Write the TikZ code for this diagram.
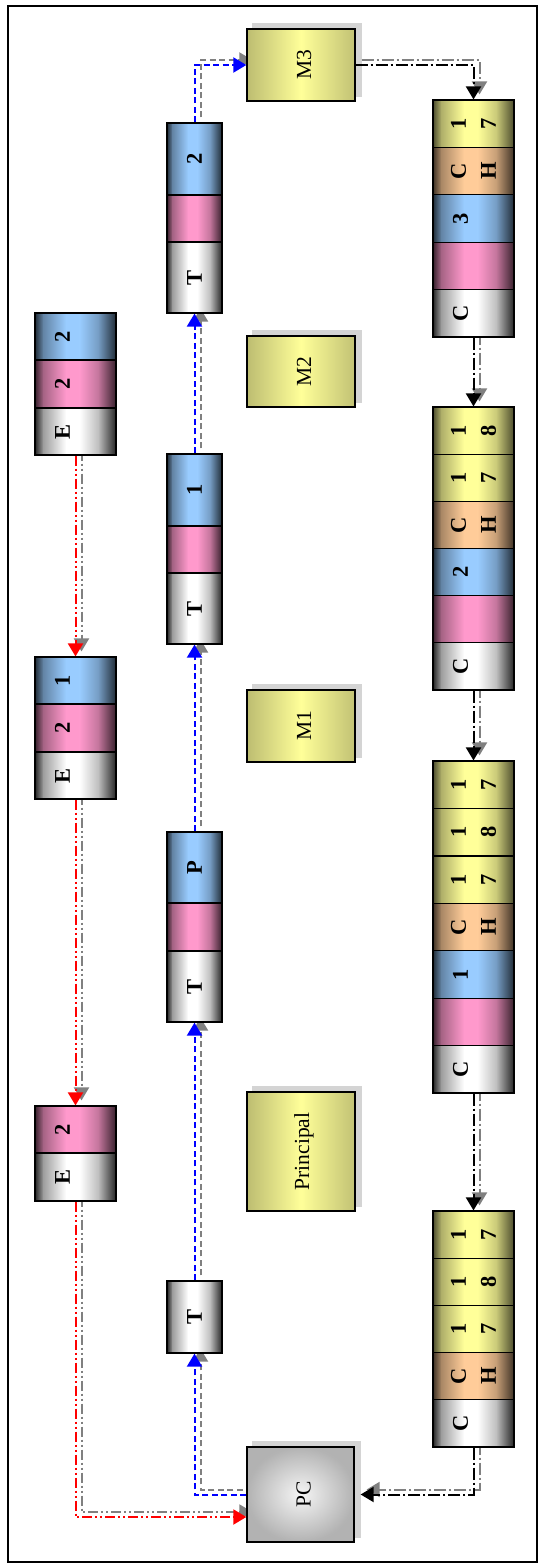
\documentclass[tikz,border=0pt]{standalone}
\usepackage{fontspec}
\setmainfont{Liberation Serif}
\usetikzlibrary{arrows.meta}
\pgfdeclarelayer{bg}
\pgfsetlayers{bg,main}
\definecolor{cPink}{HTML}{FF99CC}
\definecolor{cBlue}{HTML}{99CCFF}
\definecolor{cYel}{HTML}{FFFF99}
\definecolor{cOra}{HTML}{FFCC99}
\definecolor{lnBlue}{HTML}{0000FF}
\definecolor{lnRed}{HTML}{FF0000}
\definecolor{shGray}{HTML}{808080}
\colorlet{eW}{black!85}
\colorlet{eP}{cPink!22!black}
\colorlet{eB}{cBlue!22!black}
\colorlet{eY}{cYel!30!black}
\colorlet{eO}{cOra!25!black}
\tikzset{
 cellframe/.style={draw=black, line width=1.2pt, inner sep=0pt},
 lbl/.style={rotate=90, align=center, inner sep=0pt, font=\fontsize{22.5}{30}\selectfont\bfseries},
 blbl/.style={rotate=90, inner sep=0pt, font=\fontsize{21.5}{25}\selectfont},
 ybox/.style={draw=black, line width=1.3pt, left color=cYel!74!black, right color=cYel!76!black, middle color=cYel, minimum width=108pt, inner sep=0pt},
 pcbox/.style={draw=black, line width=1.3pt, inner color=black!4, outer color=black!30, minimum width=107pt, minimum height=95pt, inner sep=0pt},
 tip/.style={-{Triangle[length=13pt,width=15pt]}},
 redln/.style={draw=lnRed, line width=2pt, dash pattern=on 10pt off 3pt on 2pt off 3pt on 2pt off 3pt, tip},
 blueln/.style={draw=lnBlue, line width=2pt, dash pattern=on 6pt off 3.5pt, tip},
 blkln/.style={draw=black, line width=2pt, dash pattern=on 12pt off 3pt on 2pt off 3pt, tip},
 shad/.style={draw=shGray, transform canvas={xshift=6pt,yshift=5pt}},
}
% name, xcenter, ytop, ybottom, mid colour, edge colour, width
\newcommand\Cell[7]{%
 \shade[left color=#6, right color=#5!55!#6] ({#2-#7/2},#3) rectangle ({#2-#7/2+0.10*#7+0.3},#4);
 \shade[left color=#5!55!#6, right color=#5] ({#2-#7/2+0.10*#7},#3) rectangle ({#2-#7/2+0.38*#7+0.3},#4);
 \fill[#5] ({#2-#7/2+0.38*#7},#3) rectangle ({#2-#7/2+0.55*#7+0.3},#4);
 \shade[left color=#5, right color=#5!70!#6] ({#2-#7/2+0.55*#7},#3) rectangle ({#2-#7/2+0.78*#7+0.3},#4);
 \shade[left color=#5!70!#6, right color=#6] ({#2-#7/2+0.78*#7},#3) rectangle ({#2+#7/2},#4);
 \node[cellframe, minimum width=#7pt, minimum height={(#4-#3)*1pt}] (#1) at (#2,{(#3+#4)/2}) {};}
\newcommand\Link[2]{\draw[#1,shad] #2; \draw[#1] #2;}
\begin{document}
\begin{tikzpicture}[x=1pt,y=-1pt]
\useasboundingbox (0,0) rectangle (540,1564);
\begin{pgfonlayer}{bg}
\fill[white] (0,0) rectangle (540,1564);
\end{pgfonlayer}
\draw[line width=1.5pt] (8,6) rectangle (537,1562);
% right column
\Cell{a1}{473.5}{100}{147.4}{cYel}{eY}{81}
\Cell{a2}{473.5}{147.4}{194.8}{cOra}{eO}{81}
\Cell{a3}{473.5}{194.8}{242.2}{cBlue}{eB}{81}
\Cell{a4}{473.5}{242.2}{289.6}{cPink}{eP}{81}
\Cell{a5}{473.5}{289.6}{337}{white}{eW}{81}
\node[lbl] (a1t) at (a1) {1\\7};
\node[lbl] (a2t) at (a2) {C\\H};
\node[lbl] (a3t) at ([xshift=-13pt]a3.center) {3};
\node[lbl] (a5t) at ([xshift=-13pt]a5.center) {C};
\Cell{b1}{473.5}{407}{454.2}{cYel}{eY}{81}
\Cell{b2}{473.5}{454.2}{501.3}{cYel}{eY}{81}
\Cell{b3}{473.5}{501.3}{548.5}{cOra}{eO}{81}
\Cell{b4}{473.5}{548.5}{595.7}{cBlue}{eB}{81}
\Cell{b5}{473.5}{595.7}{642.8}{cPink}{eP}{81}
\Cell{b6}{473.5}{642.8}{690}{white}{eW}{81}
\node[lbl] (b1t) at (b1) {1\\8};
\node[lbl] (b2t) at (b2) {1\\7};
\node[lbl] (b3t) at (b3) {C\\H};
\node[lbl] (b4t) at ([xshift=-13pt]b4.center) {2};
\node[lbl] (b6t) at ([xshift=-13pt]b6.center) {C};
\Cell{c1}{473.5}{761}{808.4}{cYel}{eY}{81}
\Cell{c2}{473.5}{808.4}{855.9}{cYel}{eY}{81}
\Cell{c3}{473.5}{855.9}{903.3}{cYel}{eY}{81}
\Cell{c4}{473.5}{903.3}{950.7}{cOra}{eO}{81}
\Cell{c5}{473.5}{950.7}{998.1}{cBlue}{eB}{81}
\Cell{c6}{473.5}{998.1}{1045.6}{cPink}{eP}{81}
\Cell{c7}{473.5}{1045.6}{1093}{white}{eW}{81}
\node[lbl] (c1t) at (c1) {1\\7};
\node[lbl] (c2t) at (c2) {1\\8};
\node[lbl] (c3t) at (c3) {1\\7};
\node[lbl] (c4t) at (c4) {C\\H};
\node[lbl] (c5t) at ([xshift=-13pt]c5.center) {1};
\node[lbl] (c7t) at ([xshift=-13pt]c7.center) {C};
\Cell{d1}{473.5}{1211}{1258.2}{cYel}{eY}{81}
\Cell{d2}{473.5}{1258.2}{1305.4}{cYel}{eY}{81}
\Cell{d3}{473.5}{1305.4}{1352.6}{cYel}{eY}{81}
\Cell{d4}{473.5}{1352.6}{1399.8}{cOra}{eO}{81}
\Cell{d5}{473.5}{1399.8}{1447}{white}{eW}{81}
\node[lbl] (d1t) at (d1) {1\\7};
\node[lbl] (d2t) at (d2) {1\\8};
\node[lbl] (d3t) at (d3) {1\\7};
\node[lbl] (d4t) at (d4) {C\\H};
\node[lbl] (d5t) at ([xshift=-13pt]d5.center) {C};
% E column
\Cell{f1}{75.5}{313}{360}{cBlue}{eB}{81}
\Cell{f2}{75.5}{360}{408}{cPink}{eP}{81}
\Cell{f3}{75.5}{408}{455}{white}{eW}{81}
\node[lbl] (f1t) at ([xshift=-13pt]f1.center) {2};
\node[lbl] (f2t) at ([xshift=-13pt]f2.center) {2};
\node[lbl] (f3t) at ([xshift=-13pt]f3.center) {E};
\Cell{g1}{75.5}{657}{704}{cBlue}{eB}{81}
\Cell{g2}{75.5}{704}{752}{cPink}{eP}{81}
\Cell{g3}{75.5}{752}{799}{white}{eW}{81}
\node[lbl] (g1t) at ([xshift=-13pt]g1.center) {1};
\node[lbl] (g2t) at ([xshift=-13pt]g2.center) {2};
\node[lbl] (g3t) at ([xshift=-13pt]g3.center) {E};
\Cell{h1}{75.5}{1106}{1153}{cPink}{eP}{81}
\Cell{h2}{75.5}{1153}{1201}{white}{eW}{81}
\node[lbl] (h1t) at ([xshift=-13pt]h1.center) {2};
\node[lbl] (h2t) at ([xshift=-13pt]h2.center) {E};
% T column
\Cell{t21}{194.5}{123}{195}{cBlue}{eB}{55}
\Cell{t22}{194.5}{195}{242}{cPink}{eP}{55}
\Cell{t23}{194.5}{242}{313}{white}{eW}{55}
\node[lbl] (t21t) at (t21) {2};
\node[lbl] (t23t) at (t23) {T};
\Cell{t11}{194.5}{454}{526}{cBlue}{eB}{55}
\Cell{t12}{194.5}{526}{573}{cPink}{eP}{55}
\Cell{t13}{194.5}{573}{644}{white}{eW}{55}
\node[lbl] (t11t) at (t11) {1};
\node[lbl] (t13t) at (t13) {T};
\Cell{tp1}{194.5}{832}{903}{cBlue}{eB}{55}
\Cell{tp2}{194.5}{903}{951}{cPink}{eP}{55}
\Cell{tp3}{194.5}{951}{1022}{white}{eW}{55}
\node[lbl] (tp1t) at (tp1) {P};
\node[lbl] (tp3t) at (tp3) {T};
\Cell{t01}{194.5}{1281}{1353}{white}{eW}{55}
\node[lbl] (t01t) at (t01) {T};
% boxes
\node[ybox, minimum height=72pt] (M3) at (301,65) {};
\node[blbl] (M3t) at ([xshift=3pt]M3.center) {M3};
\node[ybox, minimum height=71pt] (M2) at (301,371.5) {};
\node[blbl] (M2t) at ([xshift=3pt]M2.center) {M2};
\node[ybox, minimum height=72pt] (M1) at (301,726) {};
\node[blbl] (M1t) at ([xshift=3pt]M1.center) {M1};
\node[ybox, minimum height=119pt] (Pr) at (301,1151.5) {};
\node[blbl] (Prt) at ([xshift=3pt]Pr.center) {Principal};
\node[pcbox] (PC) at (300.5,1494.5) {};
\node[blbl] (PCt) at ([xshift=3pt]PC.center) {PC};
\coordinate (pcin) at ([yshift=-22.5pt]PC.west);
\coordinate (pcout) at ([xshift=6pt]PC.east);
\begin{pgfonlayer}{bg}
\foreach \n in {M3,M2,M1,Pr,PC}
  \fill[black!17] ([xshift=6pt,yshift=5pt]\n.south west) rectangle ([xshift=6pt,yshift=5pt]\n.north east);
% red
\Link{redln}{(f3.south) -- (g1.north)}
\Link{redln}{(g3.south) -- (h1.north)}
\Link{redln}{(h2.south) |- (pcin)}
% blue
\Link{blueln}{(PC.west) -| (t01.south)}
\Link{blueln}{(t01.north) -- (tp3.south)}
\Link{blueln}{(tp1.north) -- (t13.south)}
\Link{blueln}{(t11.north) -- (t23.south)}
\Link{blueln}{(t21.north) |- (M3.west)}
% black
\Link{blkln}{(M3.east) -| (a1.north)}
\Link{blkln}{(a5.south) -- (b1.north)}
\Link{blkln}{(b6.south) -- (c1.north)}
\Link{blkln}{(c7.south) -- (d1.north)}
\Link{blkln}{(d5.south) |- (pcout)}
\end{pgfonlayer}
\end{tikzpicture}
\end{document}
